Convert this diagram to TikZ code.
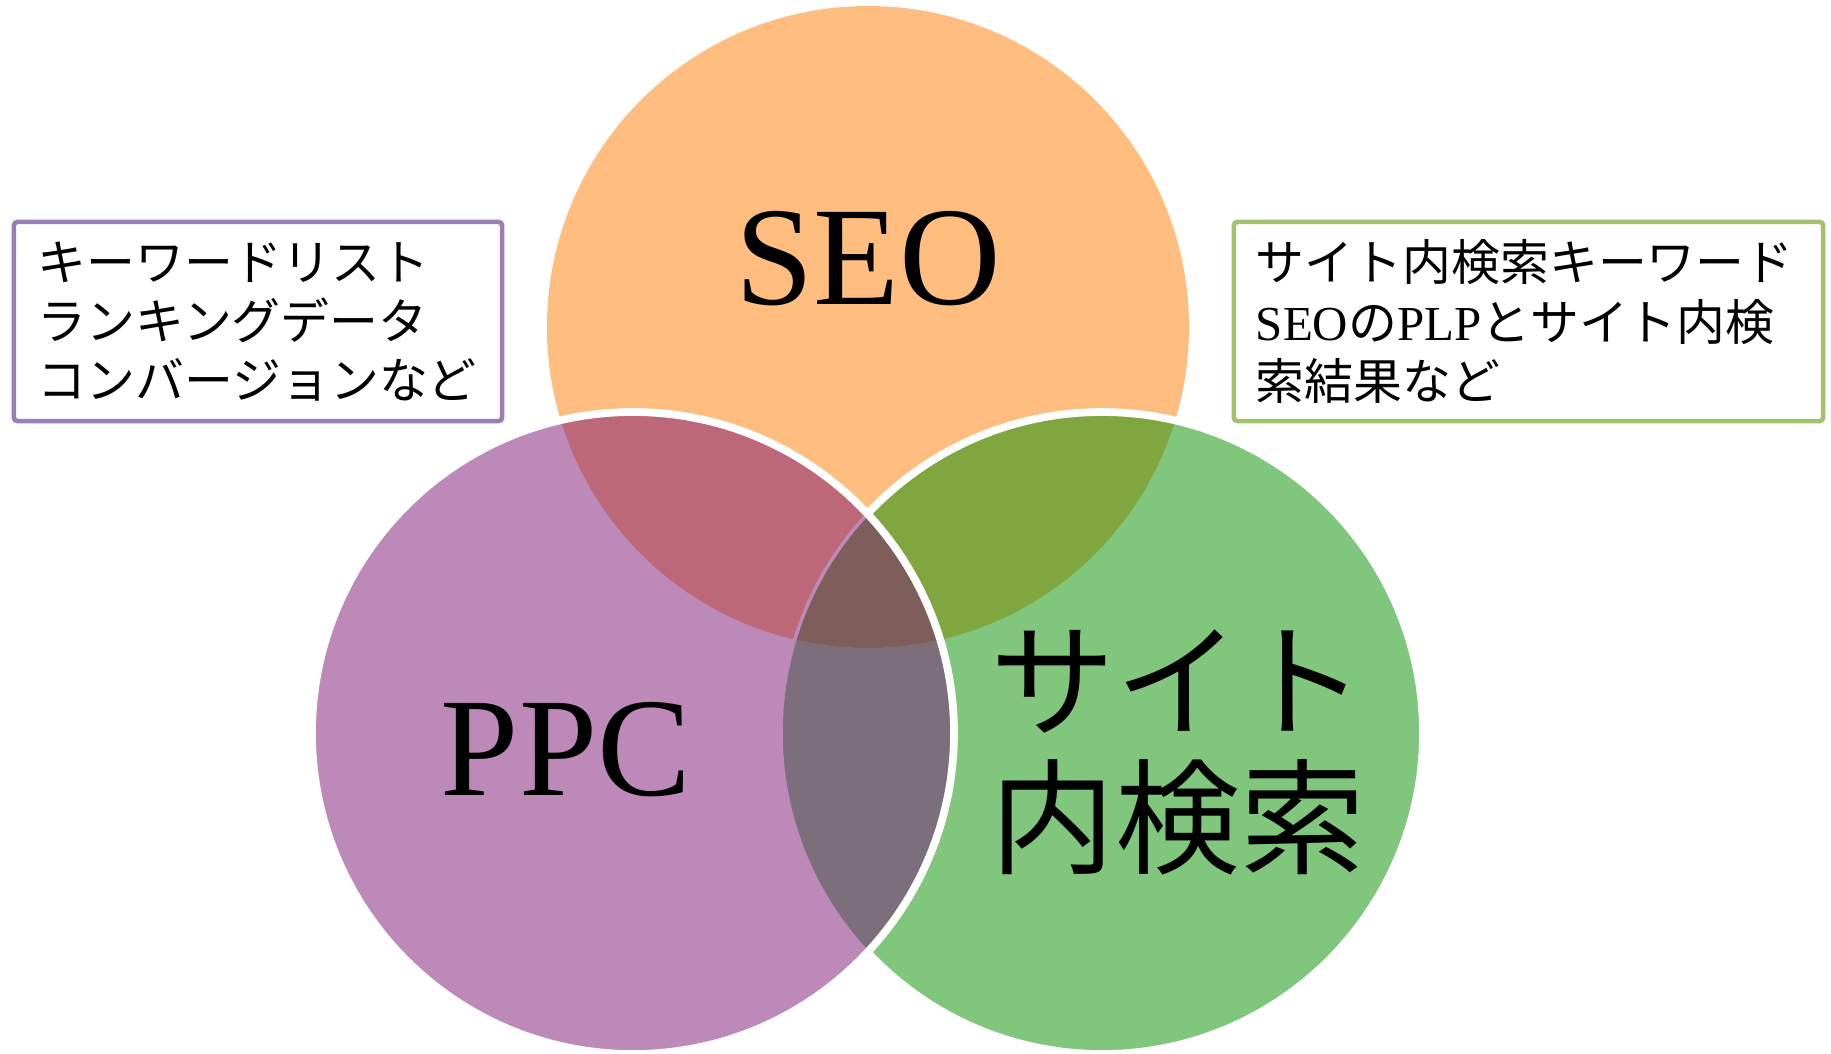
\documentclass[tikz,border=0pt]{standalone}
\usepackage{fontspec}
\usepackage{tikz}
\setmainfont{Liberation Serif}
\newfontfamily\jfont{Noto Sans CJK JP}
\newcommand{\latn}[1]{{\rmfamily #1}}

\definecolor{seoc}{RGB}{255,189,128}
\definecolor{ppcc}{RGB}{188,137,185}
\definecolor{sitec}{RGB}{128,198,125}
\definecolor{sp}{RGB}{188,104,121}
\definecolor{st}{RGB}{128,166,64}
\definecolor{pt}{RGB}{125,110,124}
\definecolor{spt}{RGB}{125,94,91}
\definecolor{kwline}{RGB}{152,127,181}
\definecolor{srline}{RGB}{162,195,108}

\begin{document}
\begin{tikzpicture}[x=0.01cm,y=-0.01cm,
  big/.style={inner sep=0,font=\fontsize{40pt}{40pt}\selectfont},
  jbig/.style={inner sep=0,align=left,font=\jfont\fontsize{35.5pt}{39pt}\selectfont},
  note/.style={draw,line width=1.3pt,rounded corners=1pt,fill=white,
    align=left,inner ysep=0,font=\jfont\fontsize{13.9pt}{16.8pt}\selectfont},
  ring/.style={draw=white,line width=2.2pt}]
  \useasboundingbox (0,0) rectangle (1831,1053);

  \coordinate (S) at (868,327);
  \coordinate (P) at (633,733);
  \coordinate (T) at (1102,733);

  \fill[seoc] (S) circle (321);
  \fill[ppcc] (P) circle (321);
  \fill[sitec] (T) circle (321);
  \begin{scope}
    \clip (P) circle (321);
    \fill[pt] (T) circle (321);
  \end{scope}
  \begin{scope}
    \clip (S) circle (321);
    \fill[sp] (P) circle (321);
    \fill[st] (T) circle (321);
    \clip (P) circle (321);
    \fill[spt] (T) circle (321);
  \end{scope}

  % site ring: white outside PPC, thin purple under it
  \begin{scope}[even odd rule]
    \clip (-10,-10) rectangle (1850,1070) (P) circle (321);
    \draw[ring] (T) circle (321);
  \end{scope}
  \begin{scope}
    \clip (P) circle (321);
    \draw[ppcc,line width=1pt] (T) circle (321);
  \end{scope}
  \draw[ring] (P) circle (321);

  \node[big] (seo) at (868,259) {SEO};
  \node[big] (ppc) at (566,750) {PPC};
  \node[jbig,anchor=west] (site) at (990,752) {サイト\\内検索};

  \node[note,draw=kwline,minimum width=4.86cm,minimum height=1.99cm,
    text width=4.4cm,inner xsep=0.24cm] (kw) at (258,321.5)
    {キーワードリスト\\ランキングデータ\\コンバージョンなど};
  \node[note,draw=srline,minimum width=5.89cm,minimum height=1.99cm,
    text width=5.45cm,inner xsep=0.2cm] (sr) at (1528.5,321.5)
    {サイト内検索キーワード\\\latn{SEO}の\latn{PLP}とサイト内検\\索結果など};
\end{tikzpicture}
\end{document}
